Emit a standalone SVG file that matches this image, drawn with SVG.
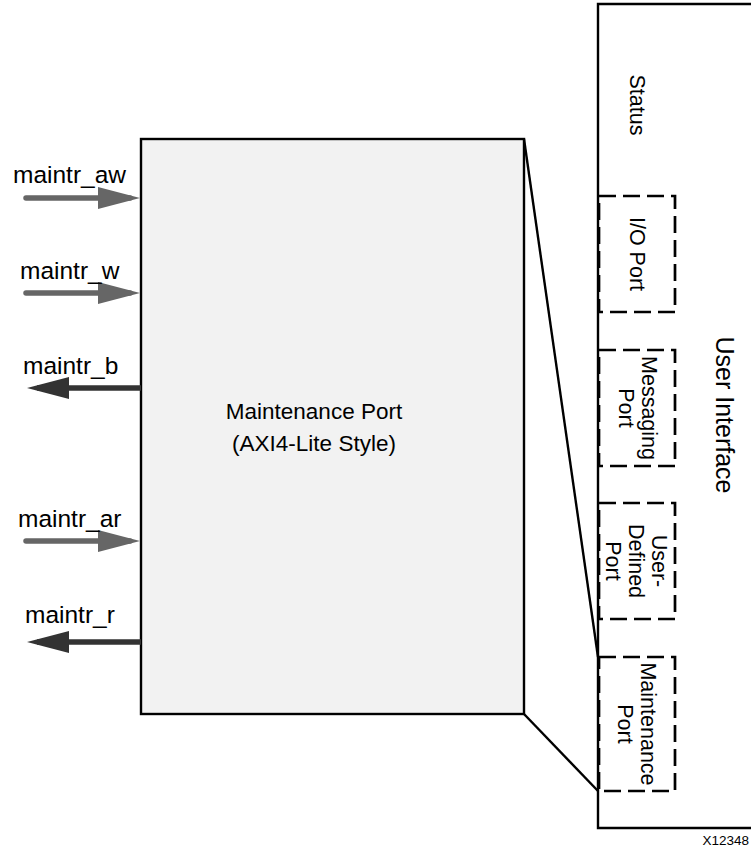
<svg xmlns="http://www.w3.org/2000/svg" width="751" height="850" viewBox="0 0 751 850">
<defs>
<style>
text{font-family:"Liberation Sans",Arial,Helvetica,sans-serif;fill:#000}
.sig{font-size:24.5px}
.lbl{font-size:21.5px}
.box{stroke:#000;stroke-width:2.4}
.dash{fill:none;stroke:#000;stroke-width:2.7;stroke-dasharray:17 7}
.in{stroke:#666;stroke-width:5.5;stroke-linecap:round;fill:none;marker-end:url(#hg)}
.out{stroke:#333;stroke-width:5.5;fill:none;marker-end:url(#hd)}
</style>
<marker id="hg" markerUnits="userSpaceOnUse" markerWidth="42" markerHeight="24" refX="32" refY="12" orient="auto"><path d="M0,1 L42,12 L0,23 z" fill="#666"/></marker>
<marker id="hd" markerUnits="userSpaceOnUse" markerWidth="42" markerHeight="24" refX="32" refY="12" orient="auto"><path d="M0,1 L42,12 L0,23 z" fill="#333"/></marker>
</defs>
<rect width="751" height="850" fill="#fff"/>

<g id="user-interface">
<path d="M760,4 H598 V828 H760" class="box" fill="#fff"/>
<text style="font-size:25px" transform="translate(725,415) rotate(90)" text-anchor="middle" y="9">User Interface</text>
</g>

<g id="status">
<text class="lbl" transform="translate(638,105) rotate(90)" text-anchor="middle" y="8">Status</text>
</g>

<g id="io-port">
<rect x="599" y="196" width="76" height="116" class="dash"/>
<text class="lbl" transform="translate(638,254) rotate(90)" text-anchor="middle" y="8">I/O Port</text>
</g>

<g id="messaging-port">
<rect x="599" y="350" width="76" height="116" class="dash"/>
<text class="lbl" transform="translate(638,408) rotate(90)" text-anchor="middle"><tspan x="0" y="-4">Messaging</tspan><tspan x="0" y="19">Port</tspan></text>
</g>

<g id="user-defined-port">
<rect x="599" y="503" width="76" height="116" class="dash"/>
<text class="lbl" transform="translate(637,561) rotate(90)" text-anchor="middle"><tspan x="0" y="-15">User-</tspan><tspan x="0" y="8">Defined</tspan><tspan x="0" y="31">Port</tspan></text>
</g>

<g id="ui-maintenance-port">
<rect x="599" y="657" width="76" height="134" fill="#f2f2f2" class="dash"/>
<text class="lbl" transform="translate(637,724) rotate(90)" text-anchor="middle"><tspan x="0" y="-4">Maintenance</tspan><tspan x="0" y="19">Port</tspan></text>
</g>

<g id="maintenance-port">
<rect x="141" y="139" width="383" height="575" fill="#f2f2f2" class="box"/>
<text font-size="22.5" text-anchor="middle" x="314" y="419">Maintenance Port</text>
<text font-size="22.5" text-anchor="middle" x="314" y="451">(AXI4-Lite Style)</text>
</g>

<g id="connectors">
<line x1="524" y1="139" x2="598" y2="657" stroke="#000" stroke-width="2.4"/>
<line x1="524" y1="714" x2="598" y2="791" stroke="#000" stroke-width="2.4"/>
<line x1="26" y1="198" x2="130" y2="198" class="in"/>
<line x1="26" y1="293" x2="130" y2="293" class="in"/>
<line x1="141" y1="388" x2="37" y2="388" class="out"/>
<line x1="26" y1="541" x2="130" y2="541" class="in"/>
<line x1="141" y1="642" x2="37" y2="642" class="out"/>
</g>

<g id="labels">
<text class="sig" x="13" y="183">maintr_aw</text>
<text class="sig" x="20" y="279">maintr_w</text>
<text class="sig" x="23" y="374">maintr_b</text>
<text class="sig" x="18" y="527">maintr_ar</text>
<text class="sig" x="25" y="623">maintr_r</text>
<text font-size="13.5" x="749" y="845" text-anchor="end">X12348</text>
</g>
</svg>
